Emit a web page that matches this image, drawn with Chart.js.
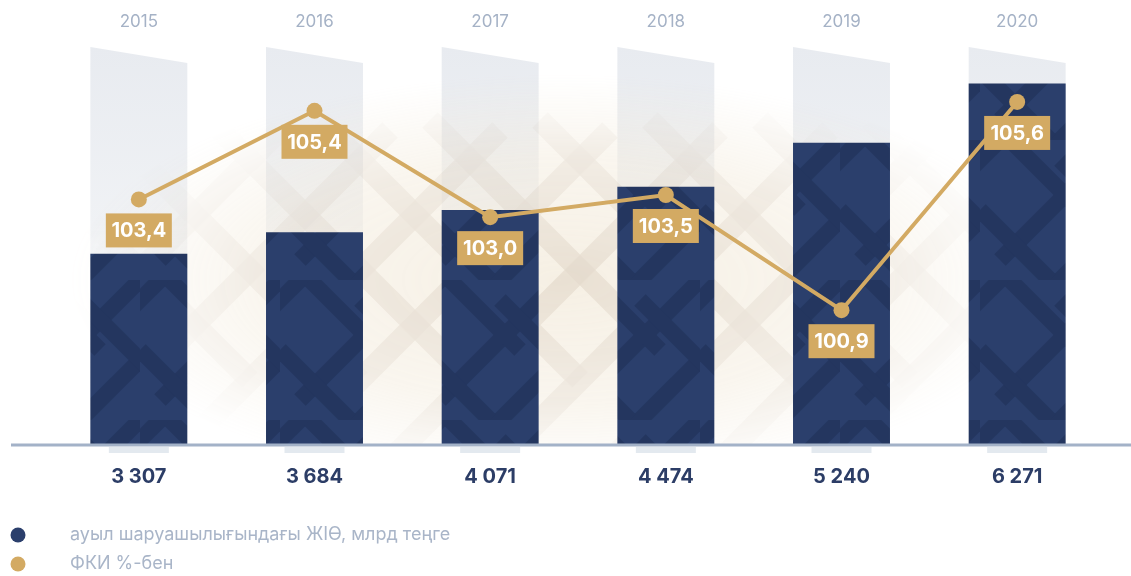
<!DOCTYPE html>
<html>
<head>
<meta charset="utf-8">
<script src="https://cdn.jsdelivr.net/npm/chart.js@4/dist/chart.umd.min.js"></script>
<style>
  html, body { margin: 0; padding: 0; background: #fff; }
  #wrap { width: 1131px; height: 576px; position: relative; }
</style>
</head>
<body>
<div id="wrap"><canvas id="chart"></canvas></div>
<script>
const years = ['2015', '2016', '2017', '2018', '2019', '2020'];
const gdpValues = [3307, 3684, 4071, 4474, 5240, 6271];
const cpiValues = [103.4, 105.4, 103.0, 103.5, 100.9, 105.6];
const seriesNames = ['ауыл шаруашылығындағы ЖІӨ, млрд теңге', 'ФКИ %-бен'];

const navy = '#2b3f6c';
const navyDark = '#24365f';
const gold = '#d3aa63';
const FONT = 'Inter, "Open Sans", sans-serif';

// stripe tile for the bars
function makeBarPattern() {
  const c = document.createElement('canvas');
  c.width = 140; c.height = 140;
  const g = c.getContext('2d');
  g.fillStyle = navy;
  g.fillRect(0, 0, 140, 140);
  g.strokeStyle = navyDark;
  g.lineWidth = 16;
  g.lineCap = 'butt';
  const segs = [
    [-20, 40, 60, -40], [20, 120, 140, 0], [60, 160, 160, 60],
    [0, 70, 70, 140], [80, 20, 150, 90], [30, 0, 100, 70]
  ];
  segs.forEach(s => { g.beginPath(); g.moveTo(s[0], s[1]); g.lineTo(s[2], s[3]); g.stroke(); });
  return g.createPattern(c, 'repeat');
}
const barPattern = makeBarPattern();

function fmtThousands(v) {
  return String(v).replace(/\B(?=(\d{3})+(?!\d))/g, ' ');
}
function fmtCpi(v) {
  return v.toFixed(1).replace('.', ',');
}

const decorPlugin = {
  id: 'decor',
  beforeDatasetsDraw(chart) {
    const { ctx, chartArea, scales } = chart;
    const x = scales.x;
    const base = chartArea.bottom;
    const half = x.width / years.length * 0.552 / 2;
    ctx.save();
    // grey slanted columns
    years.forEach((_, i) => {
      const cx = x.getPixelForValue(i);
      const grad = ctx.createLinearGradient(0, chartArea.top, 0, base);
      grad.addColorStop(0, '#e8ebf0');
      grad.addColorStop(0.45, '#f0f2f5');
      grad.addColorStop(1, 'rgba(250,250,250,0.2)');
      ctx.fillStyle = grad;
      ctx.beginPath();
      ctx.moveTo(cx - half, chartArea.top);
      ctx.lineTo(cx + half, chartArea.top + 16);
      ctx.lineTo(cx + half, base);
      ctx.lineTo(cx - half, base);
      ctx.closePath();
      ctx.fill();
    });
    // warm watermark behind the bars
    const w = chart.width, h = chart.height;
    const off = document.createElement('canvas');
    off.width = w; off.height = h;
    const o = off.getContext('2d');
    o.fillStyle = 'rgba(243,234,218,0.8)';
    o.fillRect(0, 0, w, h);
    o.strokeStyle = 'rgba(225,214,198,0.7)';
    o.lineWidth = 22;
    for (let k = -600; k < 1400; k += 110) {
      o.beginPath(); o.moveTo(k, 460); o.lineTo(k + 330, 130); o.stroke();
      o.beginPath(); o.moveTo(k + 40, 120); o.lineTo(k + 300, 380); o.stroke();
    }
    o.globalCompositeOperation = 'destination-in';
    o.save();
    o.translate(560, 280);
    o.scale(1, 0.42);
    const rg = o.createRadialGradient(0, 0, 0, 0, 0, 490);
    rg.addColorStop(0, 'rgba(0,0,0,0.9)');
    rg.addColorStop(0.6, 'rgba(0,0,0,0.55)');
    rg.addColorStop(1, 'rgba(0,0,0,0)');
    o.fillStyle = rg;
    o.fillRect(-600, -800, 1200, 1600);
    o.restore();
    ctx.beginPath();
    ctx.rect(0, 0, w, base);
    ctx.clip();
    ctx.drawImage(off, 0, 0);
    ctx.restore();
  },
  afterDatasetsDraw(chart) {
    const { ctx, chartArea, scales } = chart;
    const x = scales.x;
    const base = chartArea.bottom;
    ctx.save();
    // axis line
    ctx.strokeStyle = '#a3b2c8';
    ctx.lineWidth = 3;
    ctx.beginPath();
    ctx.moveTo(11, base + 1);
    ctx.lineTo(chart.width, base + 1);
    ctx.stroke();
    ctx.textAlign = 'center';
    ctx.textBaseline = 'middle';
    years.forEach((yr, i) => {
      const cx = x.getPixelForValue(i);
      ctx.fillStyle = '#e3e9ef';
      ctx.fillRect(cx - 30, base + 3, 60, 6);
      ctx.fillStyle = '#a5b2c6';
      ctx.font = '17px ' + FONT;
      ctx.fillText(yr, cx, 22);
      ctx.fillStyle = '#2c3d66';
      ctx.font = 'bold 20px ' + FONT;
      ctx.fillText(fmtThousands(gdpValues[i]), cx, base + 33);
    });
    // cpi labels
    const meta = chart.getDatasetMeta(1);
    ctx.font = 'bold 20px ' + FONT;
    meta.data.forEach((pt, i) => {
      const txt = fmtCpi(cpiValues[i]);
      const bx = pt.x, by = pt.y + 31;
      ctx.fillStyle = gold;
      ctx.fillRect(bx - 33, by - 17, 66, 34);
      ctx.fillStyle = '#ffffff';
      ctx.fillText(txt, bx, by + 1);
    });
    // legend
    ctx.textAlign = 'left';
    ctx.font = '18px ' + FONT;
    [navy, gold].forEach((col, i) => {
      const ly = 535 + i * 29;
      ctx.fillStyle = col;
      ctx.beginPath();
      ctx.arc(18, ly, 7.5, 0, Math.PI * 2);
      ctx.fill();
      ctx.fillStyle = '#a9b5c8';
      ctx.fillText(seriesNames[i], 70, ly);
    });
    ctx.restore();
  }
};

new Chart(document.getElementById('chart'), {
  type: 'bar',
  data: {
    labels: years,
    datasets: [
      {
        type: 'bar',
        label: seriesNames[0],
        data: gdpValues,
        backgroundColor: barPattern,
        borderWidth: 0,
        barPercentage: 0.552,
        categoryPercentage: 1,
        yAxisID: 'y',
        order: 2
      },
      {
        type: 'line',
        label: seriesNames[1],
        data: cpiValues,
        borderColor: gold,
        borderWidth: 4,
        pointRadius: 8,
        pointBackgroundColor: gold,
        pointBorderWidth: 0,
        tension: 0,
        yAxisID: 'y1',
        order: 1
      }
    ]
  },
  options: {
    responsive: true,
    maintainAspectRatio: false,
    animation: false,
    layout: { padding: { left: 51, right: 26, top: 47, bottom: 132 } },
    plugins: { legend: { display: false }, tooltip: { enabled: false } },
    scales: {
      x: { display: false, offset: true },
      y: { display: false, min: 0, max: 6904 },
      y1: { display: false, min: 97.88, max: 106.84 }
    }
  },
  plugins: [decorPlugin]
});
</script>
</body>
</html>
